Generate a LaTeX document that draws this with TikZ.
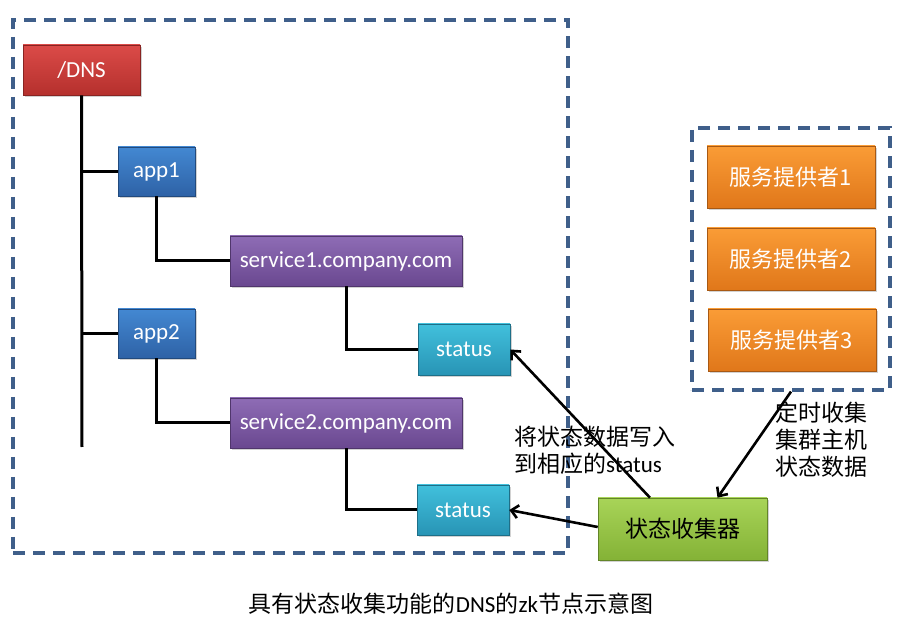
\documentclass[tikz,border=0pt]{standalone}
\usepackage{fontspec}
\setmainfont{Carlito}
\newfontfamily\cjk{Noto Sans CJK SC}
\usetikzlibrary{arrows.meta,shadows}
\definecolor{dashblue}{HTML}{3F5F8A}
\definecolor{RedTop}{HTML}{DB4B48}
\definecolor{RedBot}{HTML}{B5302D}
\definecolor{BlueTop}{HTML}{4388D2}
\definecolor{BlueBot}{HTML}{2E62A6}
\definecolor{PurTop}{HTML}{8E6CB5}
\definecolor{PurBot}{HTML}{6A4890}
\definecolor{CyTop}{HTML}{41C0DC}
\definecolor{CyBot}{HTML}{2894B5}
\definecolor{OrTop}{HTML}{FA9C36}
\definecolor{OrBot}{HTML}{E0771A}
\definecolor{GrTop}{HTML}{A8D458}
\definecolor{GrBot}{HTML}{84B236}
\tikzset{
  box/.style={line width=0.6pt, minimum height=50pt, inner sep=0pt,
    text=white, font=\fontsize{23}{27}\selectfont,
    drop shadow={shadow xshift=2pt, shadow yshift=-2pt, opacity=0.35}},
  dbox/.style={draw=dashblue, line width=3.2pt, dash pattern=on 12pt off 8pt, inner sep=0pt},
  conn/.style={black, line width=3pt},
  arr/.style={black, line width=2.6pt, -{Straight Barb[length=7pt,width=13pt,line width=2.6pt]}},
  lbl/.style={align=left, font=\fontsize{23}{27}\selectfont, inner sep=0pt},
  redb/.style={box, top color=RedTop, bottom color=RedBot, draw=RedBot!75!black},
  blueb/.style={box, top color=BlueTop, bottom color=BlueBot, draw=BlueBot!75!black},
  purb/.style={box, top color=PurTop, bottom color=PurBot, draw=PurBot!75!black},
  cyb/.style={box, top color=CyTop, bottom color=CyBot, draw=CyBot!75!black},
  orb/.style={box, top color=OrTop, bottom color=OrBot, draw=OrBot!75!black, minimum height=62pt, minimum width=168pt, font=\fontsize{22}{26}\selectfont\cjk},
  grb/.style={box, top color=GrTop, bottom color=GrBot, draw=GrBot!75!black, text=black, minimum height=62pt, minimum width=169pt, font=\fontsize{23}{27}\selectfont\cjk}
}
\begin{document}
\begin{tikzpicture}[x=1pt,y=-1pt]
\useasboundingbox[fill=white] (0,0) rectangle (906,636);
% dashed containers
\node[dbox, minimum width=555pt, minimum height=533pt] (leftbox) at (290.5,286.5) {};
\node[dbox, minimum width=198pt, minimum height=262pt] (rightbox) at (791,259) {};
\coordinate (trunkend) at (82,447);
% nodes
\node[redb, minimum width=117pt] (dns) at (81.5,70) {/DNS};
\node[blueb, minimum width=77pt, minimum height=49pt] (app1) at (156.5,171.5) {app1};
\node[blueb, minimum width=77pt, minimum height=49pt] (app2) at (156.5,333.5) {app2};
\node[purb, minimum width=232pt] (svc1) at (346,261) {service1.company.com};
\node[purb, minimum width=232pt] (svc2) at (346,423) {service2.company.com};
\node[cyb, minimum width=92pt, minimum height=51pt] (st1) at (464,349.5) {status};
\node[cyb, minimum width=92pt] (st2) at (463,510) {status};
\node[orb] (sp1) at (791,177) {服务提供者1};
\node[orb] (sp2) at (791,259) {服务提供者2};
\node[orb] (sp3) at (792,340) {服务提供者3};
\node[grb] (coll) at (682.5,529) {状态收集器};
% tree lines
\draw[conn] (dns.south) -- (trunkend);
\draw[conn] (app1.west) -- (app1.west -| dns.south);
\draw[conn] (app2.west) -- (app2.west -| dns.south);
\draw[conn] (app1.south) |- (svc1.west);
\draw[conn] (app2.south) |- (svc2.west);
\draw[conn] (svc1.south) |- (st1.west);
\draw[conn] (svc2.south) |- (st2.west);
% arrows
\draw[arr] ([xshift=-32.5pt]coll.north) -- (st1.east);
\draw[arr] ([yshift=2pt]coll.west) -- (st2.east);
\draw[arr] (rightbox.south) -- ([xshift=35pt]coll.north);
% labels
\node[lbl, anchor=north west] (lblw) at (514,426) {{\cjk 将状态数据写入}\\{\cjk 到相应的}status};
\node[lbl, anchor=north west] (lblc) at (775,402) {{\cjk 定时收集}\\{\cjk 集群主机}\\{\cjk 状态数据}};
\node[font=\fontsize{23}{27}\selectfont, inner sep=0pt] (caption) at (451,604) {{\cjk 具有状态收集功能的}DNS{\cjk 的}zk{\cjk 节点示意图}};
\end{tikzpicture}
\end{document}
